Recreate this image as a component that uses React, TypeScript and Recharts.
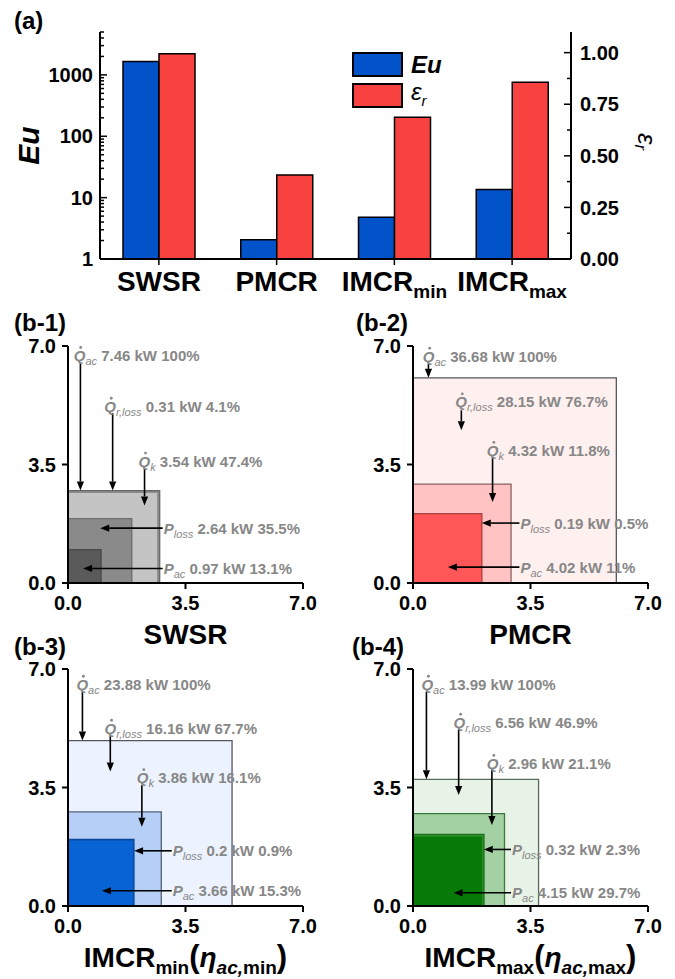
import React from "react";
import {
  BarChart,
  Bar,
  XAxis,
  YAxis,
  Legend,
  ComposedChart,
  ReferenceArea,
  ReferenceLine,
  ReferenceDot,
} from "recharts";

const FONT = '"Liberation Sans", Arial, sans-serif';
const BLUE = "#0252C9";
const RED = "#F8423F";
const ANN = "#878787";

// ---- (a) data ----
const systems = ["SWSR", "PMCR", "IMCR_min", "IMCR_max"];
const euValues = [1650, 2.06, 4.8, 13.6];
const epsValues = [0.994, 0.407, 0.687, 0.856];
const euTicks = [
  1, 2, 3, 4, 5, 6, 7, 8, 9, 10, 20, 30, 40, 50, 60, 70, 80, 90, 100, 200, 300,
  400, 500, 600, 700, 800, 900, 1000, 2000, 3000, 4000, 5000,
];
const euMajor = [1, 10, 100, 1000];
const epsTicks = [0, 0.125, 0.25, 0.375, 0.5, 0.625, 0.75, 0.875, 1.0];

// ---- (b) data, kW ----
const qAc = [7.46, 36.68, 23.88, 13.99];
const qRLoss = [0.31, 28.15, 16.16, 6.56];
const qK = [3.54, 4.32, 3.86, 2.96];
const pLoss = [2.64, 0.19, 0.2, 0.32];
const pAc = [0.97, 4.02, 3.66, 4.15];
const qAcPct = ["100%", "100%", "100%", "100%"];
const qRLossPct = ["4.1%", "76.7%", "67.7%", "46.9%"];
const qKPct = ["47.4%", "11.8%", "16.1%", "21.1%"];
const pLossPct = ["35.5%", "0.5%", "0.9%", "2.3%"];
const pAcPct = ["13.1%", "11%", "15.3%", "29.7%"];
const bTicks = [0, 3.5, 7];

const barData = systems.map((name, i) => ({ name, eu: euValues[i], eps: epsValues[i] }));

// annotation placement in data units: t = text [x, y], a = arrow [x1, y1, x2, y2]
const panels = [
  {
    label: "(b-1)", sys: 0, left: 0, top: 330, width: 337, height: 320, yw: 68, mr: 34,
    fills: ["#8c8c8c", "#c4c4c4", "#8a8a8a", "#5a5a5a"],
    strokes: ["#666", "#8c8c8c", "#6c6c6c", "#4a4a4a"],
    ann: {
      qac: { t: [0.17, 6.72], a: [0.37, 6.49, 0.37, 2.73] },
      qr: { t: [1.08, 5.22], a: [1.33, 5.02, 1.33, 2.73] },
      qk: { t: [2.1, 3.6], a: [2.28, 3.39, 2.28, 2.29] },
      pl: { t: [2.85, 1.62], a: [2.82, 1.62, 0.96, 1.62] },
      pa: { t: [2.85, 0.43], a: [2.82, 0.43, 0.45, 0.43] },
    },
  },
  {
    label: "(b-2)", sys: 1, left: 337, top: 330, width: 338, height: 320, yw: 76, mr: 27,
    fills: ["#fff0f0", "#ffc3c3", "#c84a4a", "#ff5757"],
    strokes: ["#555", "#8c6060", "#b04444", "#ff5757"],
    ann: {
      qac: { t: [0.29, 6.7], a: [0.46, 6.48, 0.46, 6.06] },
      qr: { t: [1.26, 5.35], a: [1.44, 5.1, 1.44, 4.51] },
      qk: { t: [2.2, 3.92], a: [2.37, 3.72, 2.37, 2.39] },
      pl: { t: [3.2, 1.77], a: [3.17, 1.77, 2.05, 1.77] },
      pa: { t: [3.2, 0.47], a: [3.17, 0.47, 1.04, 0.47] },
    },
  },
  {
    label: "(b-3)", sys: 2, left: 0, top: 653, width: 337, height: 326, yw: 68, mr: 34,
    fills: ["#ecf3ff", "#b5cff7", "#0a4a9c", "#0864d4"],
    strokes: ["#556", "#55607a", "#0a4a9c", "#0864d4"],
    ann: {
      qac: { t: [0.25, 6.55], a: [0.43, 6.33, 0.43, 4.89] },
      qr: { t: [1.09, 5.25], a: [1.26, 5.02, 1.26, 3.97] },
      qk: { t: [2.05, 3.79], a: [2.2, 3.57, 2.2, 2.34] },
      pl: { t: [3.12, 1.63], a: [3.09, 1.63, 1.97, 1.63] },
      pa: { t: [3.12, 0.45], a: [3.09, 0.45, 1.01, 0.45] },
    },
  },
  {
    label: "(b-4)", sys: 3, left: 337, top: 653, width: 338, height: 326, yw: 76, mr: 27,
    fills: ["#e8f3e8", "#a3d1a3", "#2d8f2d", "#087a08"],
    strokes: ["#5a6a5a", "#3d7a3d", "#1d6f1d", "#087a08"],
    ann: {
      qac: { t: [0.25, 6.55], a: [0.4, 6.33, 0.4, 3.74] },
      qr: { t: [1.21, 5.43], a: [1.36, 5.22, 1.36, 3.28] },
      qk: { t: [2.2, 4.21], a: [2.35, 4.02, 2.35, 2.39] },
      pl: { t: [2.95, 1.67], a: [2.92, 1.67, 2.11, 1.67] },
      pa: { t: [2.95, 0.39], a: [2.92, 0.39, 1.21, 0.39] },
    },
  },
];

function LogTick({ x, y, payload }: any) {
  const major = euMajor.includes(payload.value);
  return (
    <g>
      <line x1={x} y1={y} x2={x + (major ? 7 : 4)} y2={y} stroke="#000" strokeWidth={1.5} />
      {major && (
        <text x={x - 7} y={y} dy="0.36em" textAnchor="end" fontFamily={FONT} fontWeight="bold" fontSize={20} fill="#000">
          {payload.value}
        </text>
      )}
    </g>
  );
}

function EpsTick({ x, y, payload }: any) {
  const major = Math.abs((payload.value * 4) % 1) < 1e-6;
  return (
    <g>
      <line x1={x} y1={y} x2={x - (major ? 7 : 4)} y2={y} stroke="#000" strokeWidth={1.5} />
      {major && (
        <text x={x + 9} y={y} dy="0.36em" textAnchor="start" fontFamily={FONT} fontWeight="bold" fontSize={20} fill="#000">
          {payload.value.toFixed(2)}
        </text>
      )}
    </g>
  );
}

function CatTick({ x, y, payload }: any) {
  const [main, sub] = String(payload.value).split("_");
  return (
    <text x={x} y={y + 24} textAnchor="middle" fontFamily={FONT} fontWeight="bold" fontSize={28} fill="#000">
      <tspan>{main}</tspan>
      {sub && <tspan fontSize={19} dy={7}>{sub}</tspan>}
    </text>
  );
}

function LegendContent() {
  const items = [
    { color: BLUE, node: <span style={{ fontWeight: "bold", fontStyle: "italic" }}>Eu</span> },
    { color: RED, node: <span style={{ fontStyle: "italic" }}>ε<sub style={{ fontSize: 15 }}>r</sub></span> },
  ];
  return (
    <div style={{ fontFamily: FONT }}>
      {items.map((it, i) => (
        <div key={i} style={{ display: "flex", alignItems: "center", height: 25, marginBottom: 6 }}>
          <div style={{ width: 47, height: 21, background: it.color, border: "2px solid #000" }} />
          <div style={{ marginLeft: 8, fontSize: 24, lineHeight: "25px", color: "#000" }}>{it.node}</div>
        </div>
      ))}
    </div>
  );
}

function EuTitle({ viewBox }: any) {
  const x = viewBox.x + 28;
  const y = viewBox.y + viewBox.height / 2;
  return (
    <text x={x} y={y} transform={`rotate(-90 ${x} ${y})`} textAnchor="middle" dominantBaseline="central"
      fontFamily={FONT} fontWeight="bold" fontStyle="italic" fontSize={30} fill="#000">Eu</text>
  );
}

function EpsTitle({ viewBox }: any) {
  const x = viewBox.x + 76;
  const y = viewBox.y + viewBox.height / 2 - 4;
  return (
    <text x={x} y={y} transform={`rotate(90 ${x} ${y})`} textAnchor="middle" dominantBaseline="central"
      fontFamily={FONT} fontStyle="italic" fontSize={26} fill="#000">
      <tspan>ε</tspan>
      <tspan fontSize={17} dy={6}>r</tspan>
    </text>
  );
}

function BTitle({ viewBox, name, withEta }: any) {
  const [main, sub] = String(name).split("_");
  const cx = viewBox.x + viewBox.width / 2;
  const y = viewBox.y + 61;
  return (
    <text x={cx} y={y} textAnchor="middle" fontFamily={FONT} fontWeight="bold" fontSize={28} fill="#000">
      <tspan>{main}</tspan>
      {sub && <tspan fontSize={19} dy={7}>{sub}</tspan>}
      {withEta && (
        <>
          <tspan fontSize={31} dy={-7}>(</tspan>
          <tspan fontStyle="italic">η</tspan>
          <tspan fontStyle="italic" fontSize={19} dy={7}>ac,</tspan>
          <tspan fontSize={19}>{sub}</tspan>
          <tspan fontSize={31} dy={-7}>)</tspan>
        </>
      )}
    </text>
  );
}

function Arrow({ x1, y1, x2, y2 }: any) {
  const dx = x2 - x1;
  const dy = y2 - y1;
  const len = Math.hypot(dx, dy) || 1;
  const ux = dx / len;
  const uy = dy / len;
  const bx = x2 - ux * 9;
  const by = y2 - uy * 9;
  return (
    <g>
      <line x1={x1} y1={y1} x2={bx} y2={by} stroke="#000" strokeWidth={1.6} />
      <path d={`M${x2},${y2} L${bx - uy * 3.6},${by + ux * 3.6} L${bx + uy * 3.6},${by - ux * 3.6} Z`} fill="#000" />
    </g>
  );
}

function AnnText({ cx, cy, sym, sub, dot, value, pct }: any) {
  const base = cy + 5.5;
  return (
    <g>
      <text x={cx} y={base} fill={ANN} fontFamily={FONT} fontSize={15} fontWeight="bold" style={{ whiteSpace: "pre" }}>
        <tspan fontStyle="italic">{sym}</tspan>
        <tspan fontStyle="italic" fontWeight="normal" fontSize={11} dy={4}>{sub}</tspan>
        <tspan dy={-4}>{` ${value} kW ${pct}`}</tspan>
      </text>
      {dot && <circle cx={cx + 7} cy={cy - 8} r={1.4} fill={ANN} />}
    </g>
  );
}

function EnergyPanel({ p }: any) {
  const i = p.sys;
  const sides = [
    Math.sqrt(qAc[i]),
    Math.sqrt(qAc[i] - qRLoss[i]),
    Math.sqrt(pAc[i] + pLoss[i]),
    Math.sqrt(pAc[i]),
  ];
  const notes = [
    { key: "qac", sym: "Q", sub: "ac", dot: true, value: qAc[i], pct: qAcPct[i] },
    { key: "qr", sym: "Q", sub: "r,loss", dot: true, value: qRLoss[i], pct: qRLossPct[i] },
    { key: "qk", sym: "Q", sub: "k", dot: true, value: qK[i], pct: qKPct[i] },
    { key: "pl", sym: "P", sub: "loss", dot: false, value: pLoss[i], pct: pLossPct[i] },
    { key: "pa", sym: "P", sub: "ac", dot: false, value: pAc[i], pct: pAcPct[i] },
  ];
  const tickStyle = { fill: "#000", fontSize: 20, fontWeight: "bold", fontFamily: FONT };
  const axisLine = { stroke: "#000", strokeWidth: 2 };
  return (
    <div style={{ position: "absolute", left: p.left, top: p.top }}>
      <ComposedChart width={p.width} height={p.height} margin={{ top: 16, right: p.mr, bottom: 0, left: 0 }}>
        <XAxis
          type="number" dataKey="x" domain={[0, 7]} ticks={bTicks} allowDataOverflow
          tickFormatter={(v: number) => v.toFixed(1)} tick={tickStyle} tickSize={6} tickMargin={7}
          axisLine={axisLine} tickLine={axisLine} height={p.height - 16 - 237}
          label={(lp: any) => <BTitle viewBox={lp.viewBox} name={systems[i]} withEta={i >= 2} />}
        />
        <XAxis xAxisId="top" orientation="top" type="number" domain={[0, 7]} tick={false} tickLine={false} axisLine={axisLine} height={0} />
        <YAxis
          type="number" domain={[0, 7]} ticks={bTicks} allowDataOverflow
          tickFormatter={(v: number) => v.toFixed(1)} tick={tickStyle} tickSize={6} tickMargin={6}
          axisLine={axisLine} tickLine={axisLine} width={p.yw}
        />
        <YAxis yAxisId="right" orientation="right" type="number" domain={[0, 7]} tick={false} tickLine={false} axisLine={axisLine} width={0} />
        {sides.map((s, k) => (
          <ReferenceArea key={k} x1={0} x2={s} y1={0} y2={s} fill={p.fills[k]} fillOpacity={1}
            stroke={p.strokes[k]} strokeWidth={1.3} ifOverflow="visible" />
        ))}
        {notes.map((n) => {
          const a = p.ann[n.key].a;
          return (
            <ReferenceLine key={"a" + n.key} segment={[{ x: a[0], y: a[1] }, { x: a[2], y: a[3] }]}
              ifOverflow="visible" shape={(sp: any) => <Arrow {...sp} />} />
          );
        })}
        {notes.map((n) => {
          const t = p.ann[n.key].t;
          return (
            <ReferenceDot key={"t" + n.key} x={t[0]} y={t[1]} r={0} ifOverflow="visible"
              shape={(dp: any) => <AnnText cx={dp.cx} cy={dp.cy} sym={n.sym} sub={n.sub} dot={n.dot} value={n.value} pct={n.pct} />} />
          );
        })}
      </ComposedChart>
    </div>
  );
}

const panelLabel = (text: string, left: number, top: number) => (
  <div key={text} style={{ position: "absolute", left, top, fontFamily: FONT, fontWeight: "bold", fontSize: 24, lineHeight: "20px", color: "#000" }}>
    {text}
  </div>
);

export default function App() {
  const axisLine = { stroke: "#000", strokeWidth: 2 };
  return (
    <div style={{ position: "absolute", left: 0, top: 0, width: 675, height: 979, background: "#fff", overflow: "hidden" }}>
      <div style={{ position: "absolute", left: 0, top: 0 }}>
        <BarChart width={675} height={310} data={barData} margin={{ top: 32, right: 0, bottom: 10, left: 0 }} barCategoryGap={23} barGap={0}>
          <XAxis dataKey="name" tick={<CatTick />} tickSize={6} tickMargin={2} axisLine={axisLine}
            tickLine={{ stroke: "#000", strokeWidth: 1.5 }} height={41} interval={0} />
          <XAxis xAxisId="top" dataKey="name" orientation="top" tick={false} tickSize={-6}
            tickLine={{ stroke: "#000", strokeWidth: 1.5 }} axisLine={axisLine} height={0} />
          <YAxis yAxisId="eu" scale="log" type="number" domain={[1, 5000]} ticks={euTicks} interval={0} allowDataOverflow
            tick={<LogTick />} tickLine={false} tickSize={0} tickMargin={0} axisLine={axisLine} width={100}
            label={(lp: any) => <EuTitle viewBox={lp.viewBox} />} />
          <YAxis yAxisId="eps" orientation="right" type="number" domain={[0, 1.1]} ticks={epsTicks} interval={0} allowDataOverflow
            tick={<EpsTick />} tickLine={false} tickSize={0} tickMargin={0} axisLine={axisLine} width={104}
            label={(lp: any) => <EpsTitle viewBox={lp.viewBox} />} />
          <Legend layout="horizontal" verticalAlign="middle" align="center" content={<LegendContent />}
            wrapperStyle={{ left: 352, top: 52, width: "auto", height: "auto" }} />
          <Bar yAxisId="eu" dataKey="eu" name="Eu" fill={BLUE} stroke="#000" strokeWidth={1.5} isAnimationActive={false} />
          <Bar yAxisId="eps" dataKey="eps" name="εr" fill={RED} stroke="#000" strokeWidth={1.5} isAnimationActive={false} />
        </BarChart>
      </div>
      {panels.map((p) => (
        <EnergyPanel key={p.label} p={p} />
      ))}
      {panelLabel("(a)", 14, 11)}
      {panelLabel("(b-1)", 14, 313)}
      {panelLabel("(b-2)", 356, 313)}
      {panelLabel("(b-3)", 14, 637)}
      {panelLabel("(b-4)", 352, 637)}
    </div>
  );
}
